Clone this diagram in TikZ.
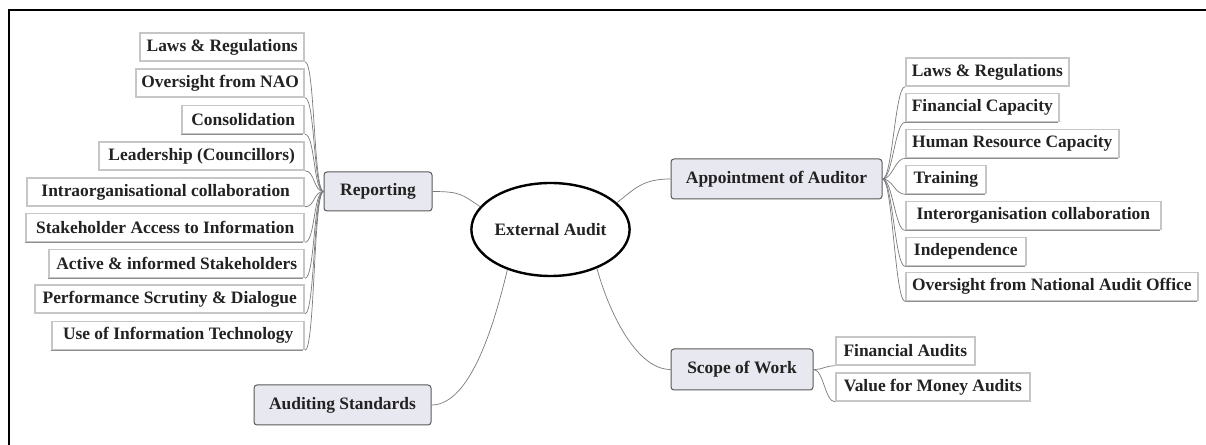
\documentclass[tikz,border=0pt]{standalone}
\usepackage{fontspec}
\setmainfont{Liberation Serif}
\usetikzlibrary{shapes.geometric,shadows}
\definecolor{branchfill}{HTML}{E8E8F0}
\definecolor{branchline}{HTML}{5A5A5A}
\definecolor{leafline}{HTML}{C6C6C6}
\definecolor{leafshadow}{HTML}{8E8E8E}
\definecolor{linkgray}{HTML}{7A7A7A}
\definecolor{ink}{HTML}{222222}

\begin{document}
\begin{tikzpicture}[x=1bp,y=-1bp,
  every node/.style={font=\fontsize{17.5}{20}\selectfont\bfseries, text=ink},
  hub/.style={ellipse, draw=black, line width=2.4bp, minimum width=141bp,
    minimum height=93bp, inner sep=0pt, fill=white},
  branch/.style={rectangle, rounded corners=3bp, draw=branchline, line width=1bp,
    fill=branchfill, minimum height=40bp, inner sep=0pt},
  leaf/.style={rectangle, draw=leafline, line width=1.6bp, fill=white,
    minimum height=28bp, inner sep=0pt,
    drop shadow={shadow xshift=-1.3bp, shadow yshift=-1.3bp, fill=leafshadow, opacity=1}},
  leftleaf/.style={leaf, anchor=east},
  rightleaf/.style={leaf, anchor=west},
  link/.style={draw=linkgray, line width=0.7bp},
]
\useasboundingbox (0,0) rectangle (1206,445);
\fill[white] (0,0) rectangle (1206,445);

% frame
\draw[line width=2.2bp] (9,445) -- (9,10) -- (1206,10);

% centre and main branches
\node[hub] (hub) at (550.5,229.5) {External Audit};
\node[branch, minimum width=108bp, minimum height=39bp] (rep) at (378,191.5) {Reporting};
\node[branch, minimum width=211bp] (app) at (776.5,179) {Appointment of Auditor};
\node[branch, minimum width=142bp, minimum height=41bp] (scope) at (742,369.5) {Scope of Work};
\node[branch, minimum width=177bp] (aud) at (342.5,405) {Auditing Standards};

% reporting topics
\node[leftleaf, minimum width=164bp] (l1) at (305,47)    {Laws \& Regulations};
\node[leftleaf, minimum width=168bp] (l2) at (305,83)    {Oversight from NAO};
\node[leftleaf, minimum width=122bp] (l3) at (305,119.5) {Consolidation};
\node[leftleaf, minimum width=205bp] (l4) at (305,156)   {Leadership (Councillors)};
\node[leftleaf, minimum width=277bp] (l5) at (305,192)   {Intraorganisational collaboration};
\node[leftleaf, minimum width=278bp] (l6) at (305,227.5) {Stakeholder Access to Information};
\node[leftleaf, minimum width=255bp] (l7) at (305,263.5) {Active \& informed Stakeholders};
\node[leftleaf, minimum width=269bp] (l8) at (305,299)   {Performance Scrutiny \& Dialogue};
\node[leftleaf, minimum width=252bp] (l9) at (305,335.5) {Use of Information Technology};

% appointment topics
\node[rightleaf, minimum width=163bp] (r1) at (905,72)    {Laws \& Regulations};
\node[rightleaf, minimum width=153bp] (r2) at (905,107.5) {Financial Capacity};
\node[rightleaf, minimum width=213bp] (r3) at (905,143.5) {Human Resource Capacity};
\node[rightleaf, minimum width=80bp]  (r4) at (905,179.5) {Training};
\node[rightleaf, minimum width=255bp] (r5) at (905,215.5) {Interorganisation collaboration};
\node[rightleaf, minimum width=120bp] (r6) at (905,251.5) {Independence};
\node[rightleaf, minimum width=292bp] (r7) at (905,286.5) {Oversight from National Audit Office};

% scope topics
\node[rightleaf, minimum width=139bp] (s1) at (835,351) {Financial Audits};
\node[rightleaf, minimum width=194bp] (s2) at (835,387) {Value for Money Audits};

% links from the centre
\draw[link] (rep.east) .. controls +(28,0) and +(-18,-12) .. (hub.162);
\draw[link] (hub.22) .. controls +(18,-14) and +(-28,0) .. (app.west);
\draw[link] (hub.-40) .. controls +(14,50) and +(-32,0) .. (scope.west);
\draw[link] (hub.223) .. controls +(-12,50) and +(40,0) .. (aud.east);

% links to topics
\foreach \n in {l1,l2,l3,l4,l5,l6,l7,l8,l9}
  \draw[link] (rep.west) .. controls +(-10,0) and +(10,0) .. (\n.south east);
\foreach \n in {r1,r2,r3,r4,r5,r6,r7}
  \draw[link] (app.east) .. controls +(10,0) and +(-10,0) .. (\n.south west);
\foreach \n in {s1,s2}
  \draw[link] (scope.east) .. controls +(10,0) and +(-10,0) .. (\n.south west);
\end{tikzpicture}
\end{document}
